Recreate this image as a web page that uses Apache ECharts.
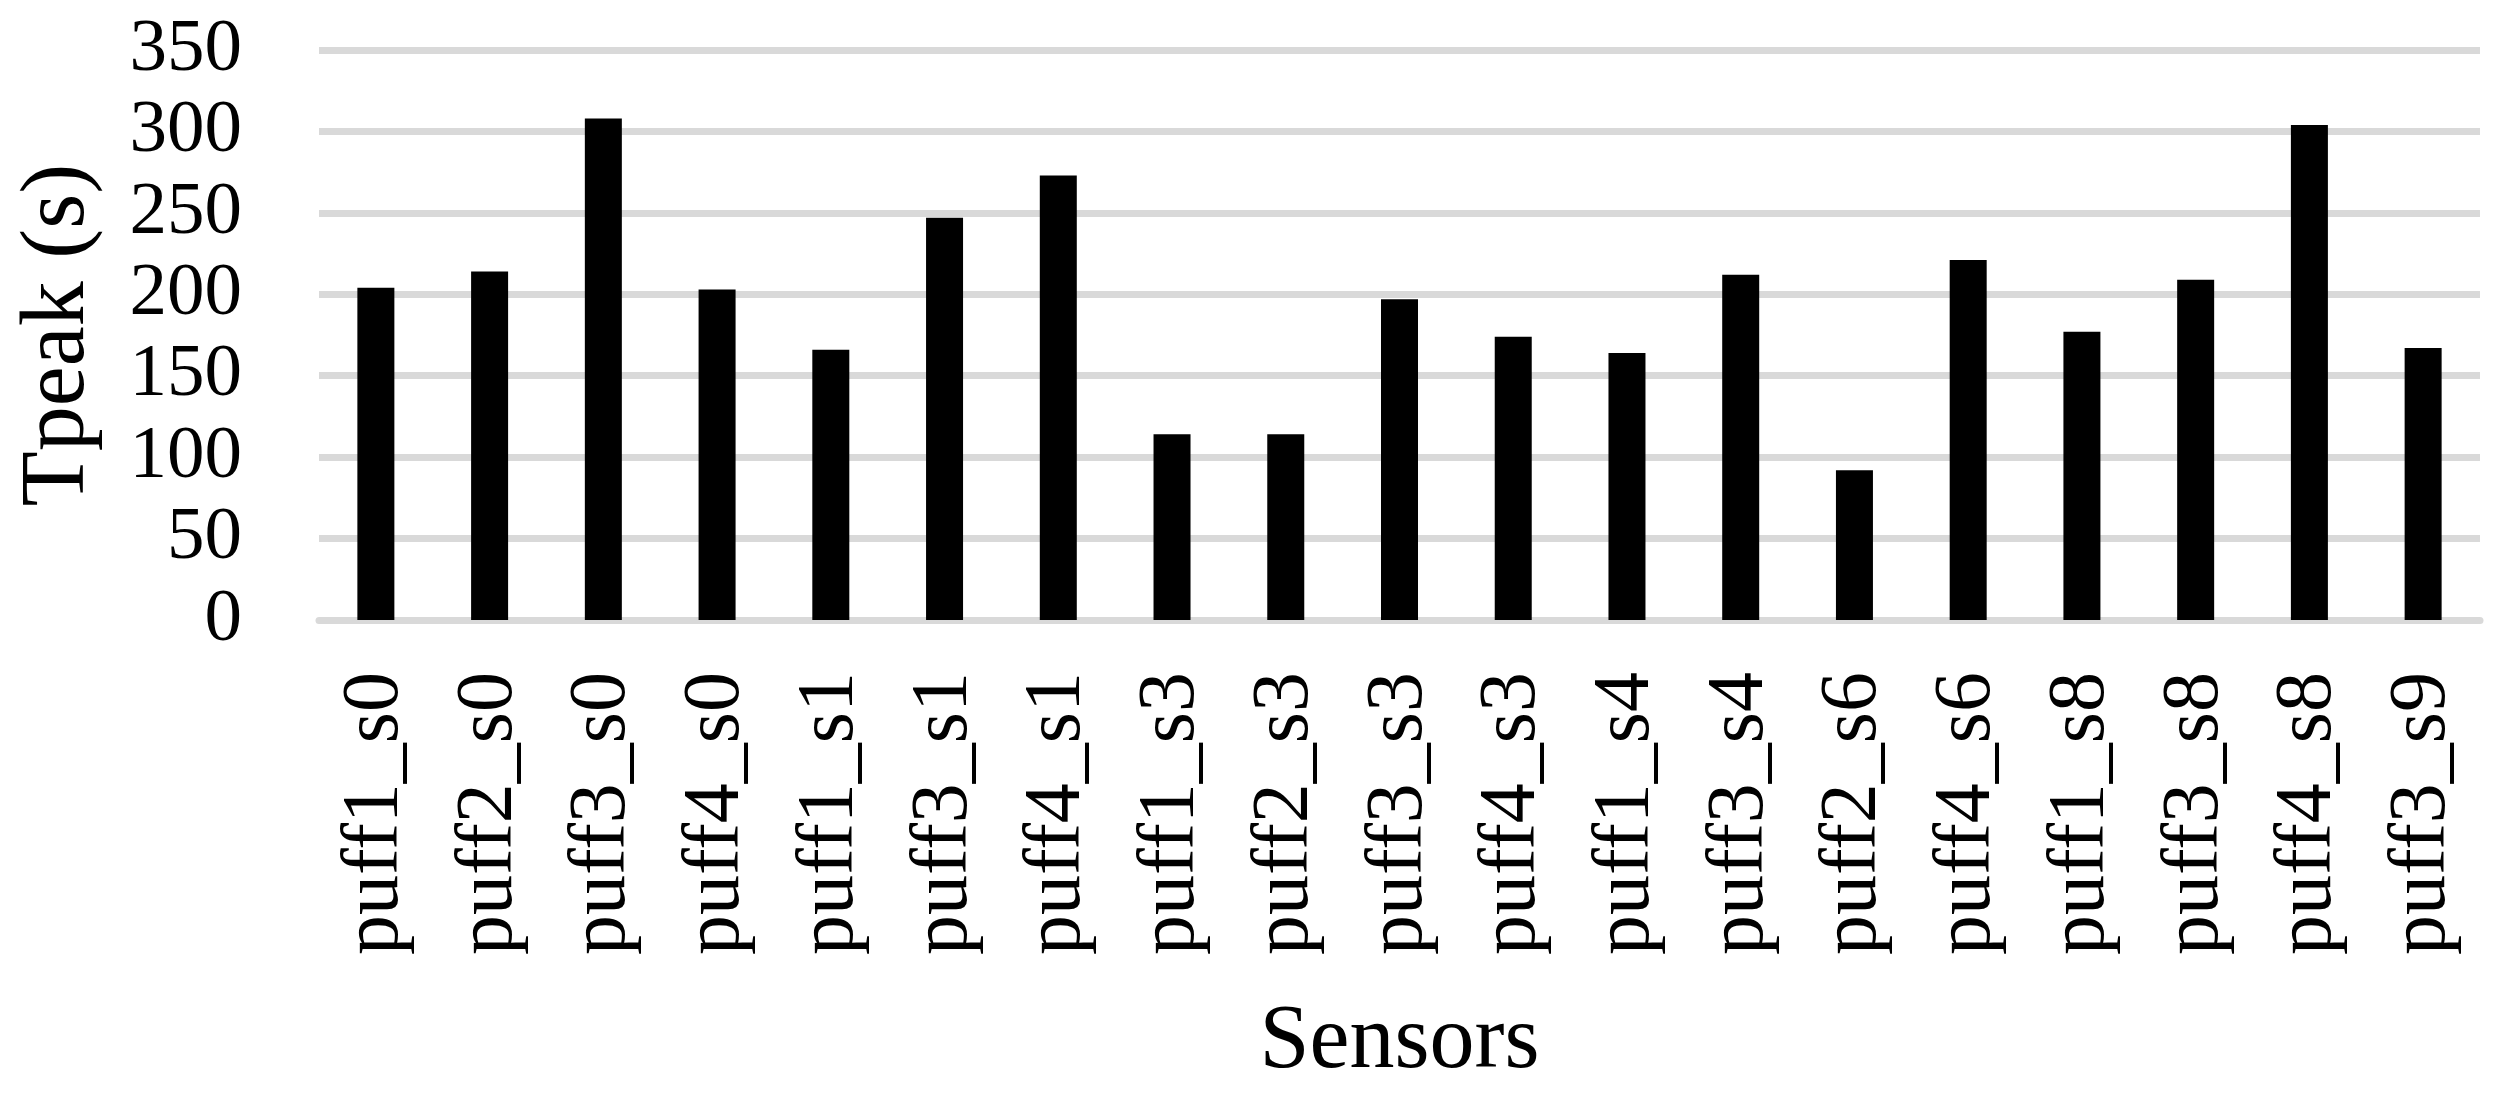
<!DOCTYPE html>
<html>
<head>
<meta charset="utf-8">
<script src="https://cdn.jsdelivr.net/npm/echarts@6/dist/echarts.min.js"></script>
<style>
  html, body { margin: 0; padding: 0; background: #fff; }
  #main { width: 2517px; height: 1095px; }
</style>
</head>
<body>
<div id="main"></div>
<script>
var sensors = [
  "puff1_s0", "puff2_s0", "puff3_s0", "puff4_s0", "puff1_s1", "puff3_s1", "puff4_s1",
  "puff1_s3", "puff2_s3", "puff3_s3", "puff4_s3", "puff1_s4", "puff3_s4", "puff2_s6",
  "puff4_s6", "puff1_s8", "puff3_s8", "puff4_s8", "puff3_s9"
];
var tpeak = [
  204, 214, 308, 203, 166, 247, 273,
  114, 114, 197, 174, 164, 212, 92,
  221, 177, 209, 304, 167
];

var fontFamily = "'Liberation Serif', 'Times New Roman', serif";

var myChart = echarts.init(document.getElementById("main"));
var option = {
  animation: false,
  grid: {
    left: 319,
    right: 37,
    top: 50,
    bottom: 475,
    outerBoundsMode: "none"
  },
  xAxis: {
    type: "category",
    data: sensors,
    name: "Sensors",
    nameLocation: "middle",
    nameGap: 378,
    nameTextStyle: {
      fontFamily: fontFamily,
      fontSize: 90,
      color: "#000"
    },
    axisLine: { lineStyle: { color: "#d9d9d9", width: 7 } },
    axisTick: { show: false },
    axisLabel: {
      rotate: 90,
      margin: 52,
      interval: 0,
      fontFamily: fontFamily,
      fontSize: 80,
      color: "#000"
    }
  },
  yAxis: {
    type: "value",
    min: 0,
    max: 350,
    interval: 50,
    name: "Tpeak (s)",
    nameLocation: "middle",
    nameRotate: 90,
    nameGap: 215,
    nameTextStyle: {
      fontFamily: fontFamily,
      fontSize: 90,
      color: "#000"
    },
    axisLine: { show: false },
    axisTick: { show: false },
    axisLabel: {
      margin: 77,
      fontFamily: fontFamily,
      fontSize: 75,
      color: "#000"
    },
    splitLine: { lineStyle: { color: "#d9d9d9", width: 7 } }
  },
  series: [
    {
      name: "Tpeak",
      type: "bar",
      data: tpeak,
      barWidth: 37,
      itemStyle: { color: "#000" }
    }
  ]
};
myChart.setOption(option);
</script>
</body>
</html>
